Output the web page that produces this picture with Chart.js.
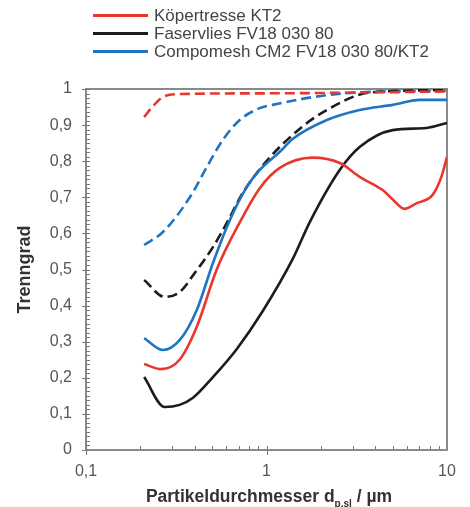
<!DOCTYPE html>
<html lang="de">
<head>
    <meta charset="UTF-8">
    <title>Trenngrad</title>
    <script src="https://cdn.jsdelivr.net/npm/chart.js@4.4.1/dist/chart.umd.min.js"></script>
    <style>
        body { margin: 0; background: #fff; font-family: 'Liberation Sans', Arial, sans-serif; }
        .wrap { position: relative; width: 470px; height: 507px; }
        canvas { position: absolute; left: 0; top: 0; }
        .legend { position: absolute; left: 93px; top: 7px; color: #444; font-size: 17px; }
        .legend div { height: 18px; line-height: 18px; white-space: nowrap; }
        .legend span.line { display: inline-block; width: 55px; height: 3px; vertical-align: middle; margin-right: 6px; position: relative; top: -1px; }
        .xtitle { position: absolute; left: 0; width: 538px; top: 486px; text-align: center; font-weight: bold; font-size: 17.5px; color: #333; white-space: nowrap; }
        .xtitle sub { font-size: 10px; }
    </style>
</head>
<body>
    <div class="wrap">
        <canvas id="chart" width="470" height="507"></canvas>
        <div class="legend" id="legend"></div>
        <div class="xtitle">Partikeldurchmesser d<sub>p,sl</sub> / µm</div>
    </div>
    <script>
        // series names and colours
        const seriesNames = ['Köpertresse KT2', 'Faservlies FV18 030 80', 'Compomesh CM2 FV18 030 80/KT2'];
        const seriesColors = ['#e8372d', '#1c1c1c', '#1f74c4'];

        // axis ticks
        const xTickValues = [0.1, 1, 10];
        const yTickStep = 0.1;

        // solid curves
        const xRed = [0.21, 0.26, 0.33, 0.41, 0.53, 0.71, 0.92, 1.19, 1.8, 2.55, 3.3, 4.4, 5.1, 5.8, 6.8, 8.3, 9.3, 10];
        const yRed = [0.238, 0.224, 0.25, 0.34, 0.5, 0.63, 0.726, 0.782, 0.81, 0.795, 0.756, 0.72, 0.69, 0.668, 0.684, 0.706, 0.756, 0.812];

        const xBlack = [0.21, 0.273, 0.33, 0.39, 0.505, 0.685, 0.954, 1.4, 1.74, 2.55, 3.28, 5.0, 7.7, 10];
        const yBlack = [0.202, 0.119, 0.125, 0.144, 0.202, 0.28, 0.385, 0.53, 0.632, 0.776, 0.839, 0.886, 0.892, 0.906];

        const xBlue = [0.21, 0.267, 0.331, 0.411, 0.505, 0.627, 0.778, 0.918, 1.185, 1.4, 2.16, 3.28, 5.0, 7.05, 10];
        const yBlue = [0.31, 0.277, 0.305, 0.388, 0.518, 0.637, 0.729, 0.776, 0.826, 0.862, 0.914, 0.942, 0.956, 0.97, 0.97];

        // dashed curves
        const xRedDash = [0.21, 0.23, 0.267, 0.33, 1.0, 10];
        const yRedDash = [0.922, 0.947, 0.978, 0.986, 0.988, 0.993];

        const xBlackDash = [0.21, 0.273, 0.331, 0.40, 0.505, 0.603, 0.739, 1.0, 1.53, 2.16, 3.73, 10];
        const yBlackDash = [0.471, 0.424, 0.438, 0.49, 0.562, 0.629, 0.712, 0.8, 0.89, 0.942, 0.99, 0.997];

        const xBlueDash = [0.21, 0.267, 0.376, 0.467, 0.573, 0.711, 0.918, 1.08, 2.16, 4.3, 10];
        const yBlueDash = [0.568, 0.604, 0.70, 0.784, 0.859, 0.914, 0.947, 0.956, 0.983, 0.993, 0.995];

        function toPoints(xs, ys) {
            return xs.map((x, i) => ({ x: x, y: ys[i] }));
        }

        function makeSet(label, xs, ys, color, dashed) {
            return {
                label: label,
                data: toPoints(xs, ys),
                borderColor: color,
                borderWidth: 2.6,
                borderDash: dashed ? [10, 5] : [],
                pointRadius: 0,
                cubicInterpolationMode: 'monotone',
                fill: false
            };
        }

        const datasets = [
            makeSet(seriesNames[0], xRed, yRed, seriesColors[0], false),
            makeSet(seriesNames[1], xBlack, yBlack, seriesColors[1], false),
            makeSet(seriesNames[2], xBlue, yBlue, seriesColors[2], false),
            makeSet(seriesNames[0] + ' (gestrichelt)', xRedDash, yRedDash, seriesColors[0], true),
            makeSet(seriesNames[1] + ' (gestrichelt)', xBlackDash, yBlackDash, seriesColors[1], true),
            makeSet(seriesNames[2] + ' (gestrichelt)', xBlueDash, yBlueDash, seriesColors[2], true)
        ];

        // legend with the three solid series only
        document.getElementById('legend').innerHTML = seriesNames.map((name, i) =>
            `<div><span class="line" style="background:${seriesColors[i]}"></span>${name}</div>`
        ).join('');

        const fmt = v => String(Math.round(v * 10) / 10).replace('.', ',');

        // plot frame and the small inner ticks
        const axisDecor = {
            id: 'axisDecor',
            beforeDatasetsDraw(chart) {
                const { ctx, chartArea: a, scales: { x, y } } = chart;
                ctx.save();
                ctx.strokeStyle = '#8a8a8a';
                ctx.lineWidth = 2;
                ctx.strokeRect(a.left, a.top, a.right - a.left, a.bottom - a.top);

                ctx.lineWidth = 1;
                ctx.strokeStyle = '#7a7a7a';
                ctx.beginPath();
                for (let i = 0; i <= 80; i++) {
                    const py = Math.round(y.getPixelForValue(i / 80)) + 0.5;
                    const major = i % 8 === 0;
                    ctx.moveTo(a.left - (major ? 4 : 0), py);
                    ctx.lineTo(a.left + 4, py);
                }
                for (let d = 0.1; d < 10; d *= 10) {
                    for (let k = 1; k <= 9; k++) {
                        const px = Math.round(x.getPixelForValue(d * k)) + 0.5;
                        const major = k === 1;
                        ctx.moveTo(px, a.bottom - 4);
                        ctx.lineTo(px, a.bottom + (major ? 5 : 0));
                    }
                }
                ctx.stroke();
                ctx.restore();
            }
        };

        new Chart(document.getElementById('chart'), {
            type: 'line',
            data: { datasets: datasets },
            plugins: [axisDecor],
            options: {
                responsive: false,
                animation: false,
                layout: { padding: { top: 89, right: 23, left: 0, bottom: 0 } },
                plugins: {
                    legend: { display: false },
                    tooltip: { enabled: false }
                },
                scales: {
                    x: {
                        type: 'logarithmic',
                        min: 0.1,
                        max: 10,
                        afterBuildTicks: scale => { scale.ticks = xTickValues.map(v => ({ value: v })); },
                        afterFit: scale => { scale.height = 57; },
                        grid: { display: false, drawTicks: false },
                        border: { display: false },
                        ticks: {
                            autoSkip: false,
                            maxRotation: 0,
                            padding: 12,
                            color: '#555',
                            font: { family: "'Liberation Sans', Arial, sans-serif", size: 16 },
                            callback: v => fmt(v)
                        }
                    },
                    y: {
                        min: 0,
                        max: 1,
                        afterFit: scale => { scale.width = 86; },
                        grid: { display: false, drawTicks: false },
                        border: { display: false },
                        ticks: {
                            stepSize: yTickStep,
                            padding: 14,
                            color: '#555',
                            font: { family: "'Liberation Sans', Arial, sans-serif", size: 16 },
                            callback: v => fmt(v)
                        },
                        title: {
                            display: true,
                            text: 'Trenngrad',
                            color: '#333',
                            padding: { top: 14, bottom: 0 },
                            font: { family: "'Liberation Sans', Arial, sans-serif", size: 18, weight: 'bold' }
                        }
                    }
                }
            }
        });
    </script>
</body>
</html>
